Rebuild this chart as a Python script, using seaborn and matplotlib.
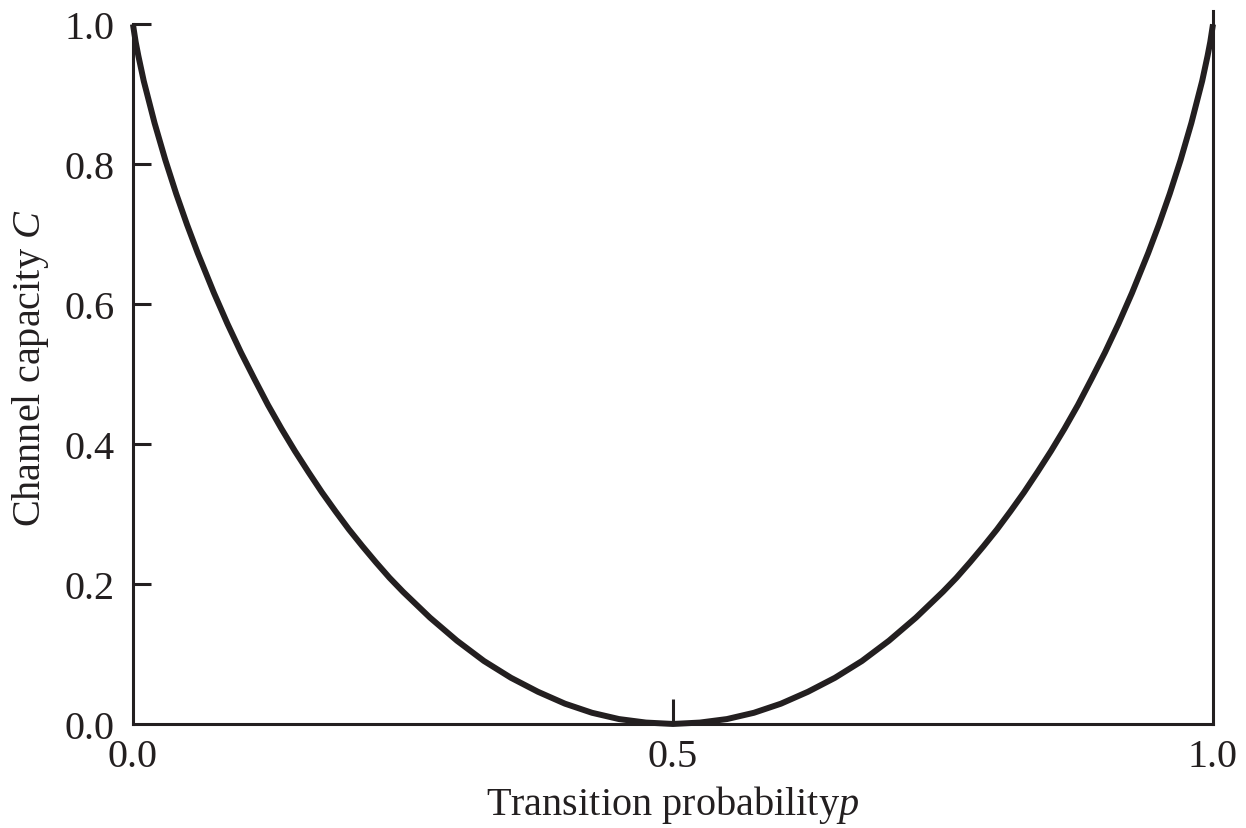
import matplotlib
matplotlib.use("Agg")
import matplotlib.pyplot as plt
import seaborn as sns
import pandas as pd

# Binary symmetric channel: capacity C versus transition probability p
p_values = [0.0, 0.0025, 0.005, 0.01, 0.02, 0.03, 0.04, 0.05, 0.06, 0.075,
            0.0875, 0.1, 0.1125, 0.125, 0.1375, 0.15, 0.1625, 0.175, 0.1875,
            0.2, 0.2125, 0.225, 0.2375, 0.25, 0.275, 0.3, 0.325,
            0.35, 0.375, 0.4, 0.425, 0.45, 0.475, 0.5,
            0.525, 0.55, 0.575, 0.6, 0.625, 0.65, 0.675, 0.7, 0.725,
            0.75, 0.7625, 0.775, 0.7875, 0.8, 0.8125, 0.825, 0.8375, 0.85,
            0.8625, 0.875, 0.8875, 0.9, 0.9125, 0.925, 0.94,
            0.95, 0.96, 0.97, 0.98, 0.99, 0.995, 0.9975, 1.0]
capacity = [1.0, 0.975, 0.955, 0.919, 0.859, 0.806, 0.758, 0.714, 0.673, 0.616,
            0.572, 0.531, 0.493, 0.456, 0.422, 0.390, 0.360, 0.331, 0.304,
            0.278, 0.254, 0.231, 0.209, 0.189, 0.152, 0.119, 0.090,
            0.066, 0.046, 0.029, 0.016, 0.007, 0.002, 0.0,
            0.002, 0.007, 0.016, 0.029, 0.046, 0.066, 0.090, 0.119, 0.152,
            0.189, 0.209, 0.231, 0.254, 0.278, 0.304, 0.331, 0.360, 0.390,
            0.422, 0.456, 0.493, 0.531, 0.572, 0.616, 0.673,
            0.714, 0.758, 0.806, 0.859, 0.919, 0.955, 0.975, 1.0]
x_ticks = [0.0, 0.5, 1.0]
x_tick_labels = ["0.0", "0.5", "1.0"]
y_ticks = [0.0, 0.2, 0.4, 0.6, 0.8, 1.0]
y_tick_labels = ["0.0", "0.2", "0.4", "0.6", "0.8", "1.0"]

df = pd.DataFrame({"p": p_values, "C": capacity})

sns.set_style("white")
plt.rcParams["font.family"] = ["Liberation Serif", "DejaVu Serif"]
plt.rcParams["mathtext.fontset"] = "custom"
plt.rcParams["mathtext.it"] = "Liberation Serif:italic"

ink = "#231f20"
fig = plt.figure(figsize=(12.46, 8.29), dpi=100)
ax = fig.add_axes([0.1067, 0.1255, 0.8668, 0.86])

sns.lineplot(data=df, x="p", y="C", ax=ax, color=ink, linewidth=4.3,
             clip_on=False, solid_capstyle="butt", solid_joinstyle="round")

ax.set_xlim(0.0, 1.0)
ax.set_ylim(0.0, 1.019)

for side in ["left", "bottom", "right"]:
    ax.spines[side].set_visible(True)
    ax.spines[side].set_color(ink)
    ax.spines[side].set_linewidth(2.2)
ax.spines["top"].set_visible(False)
ax.spines["left"].set_bounds(0.0, 1.0)

ax.set_yticks(y_ticks)
ax.set_yticklabels(y_tick_labels)
ax.set_xticks(x_ticks)
ax.set_xticklabels(x_tick_labels)
ax.tick_params(axis="y", direction="in", length=13, width=2.2, color=ink,
               labelsize=29, labelcolor=ink, pad=13, left=True)
ax.tick_params(axis="x", direction="in", length=18, width=2.2, color=ink,
               labelsize=29, labelcolor=ink, pad=10, bottom=True)
# only the centre x tick shows a mark; ends coincide with the spines
xt = ax.xaxis.get_major_ticks()
xt[0].tick1line.set_visible(False)
xt[2].tick1line.set_visible(False)
yt = ax.yaxis.get_major_ticks()
yt[0].tick1line.set_visible(False)

ax.set_xlabel(r"Transition probability$p$", fontsize=29, color=ink, labelpad=6)
ax.set_ylabel(r"Channel capacity $C$", fontsize=29, color=ink, labelpad=10)

fig.savefig("out.png", dpi=100)
